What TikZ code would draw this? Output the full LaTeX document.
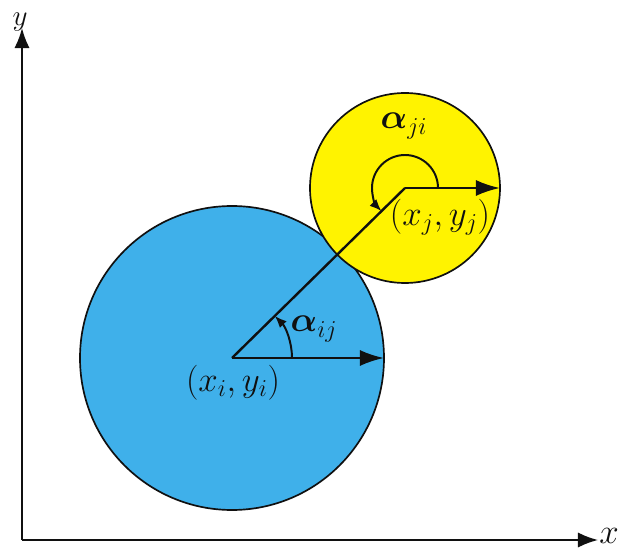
\documentclass[tikz,border=0pt]{standalone}
\usepackage{amsmath}
\usepackage{bm}
\usepackage{tikz}
\usetikzlibrary{arrows.meta,calc}
\definecolor{Sky}{HTML}{3FB0EA}
\definecolor{Lemon}{HTML}{FFF300}
\definecolor{Ink}{HTML}{101010}
\tikzset{
  axisarrow/.style={-{Latex[length=5mm,width=3.8mm]},line width=1.3pt,draw=Ink},
  radiusarrow/.style={-{Latex[length=6mm,width=4mm]},line width=1.7pt,draw=Ink},
  anglearrow/.style={-{Latex[length=3mm,width=2.4mm]},line width=1.4pt,draw=Ink},
  disc/.style={line width=1.2pt,draw=Ink},
  mathlabel/.style={text=Ink,inner sep=0pt,font=\fontsize{24}{28}\selectfont},
}
\begin{document}
\begin{tikzpicture}[x=0.025cm,y=0.025cm]
    \useasboundingbox (0,0) rectangle (621,555);
    % axes
    \coordinate (origin) at (22,15);
    \coordinate (ytip) at (22,527);
    \coordinate (xtip) at (598,15);
    \draw[axisarrow] (origin) -- (ytip);
    \draw[axisarrow] (origin) -- (xtip);
    \node[mathlabel,font=\fontsize{22}{26}\selectfont] (ylabel) at (20,533) {$y$};
    \node[mathlabel] (xlabel) at (609,19) {$x$};

    % the two discs
    \coordinate (ci) at (232,197);
    \coordinate (cj) at (405,367);
    \filldraw[disc,fill=Sky] (ci) circle[radius=152];
    \filldraw[disc,fill=Lemon] (cj) circle[radius=95];

    \coordinate (ri) at (384,197);
    \coordinate (rj) at (500,367);
    \draw[radiusarrow] (ci) -- (ri);
    \draw[radiusarrow] (cj) -- (rj);
    \draw[line width=1.7pt,draw=Ink] (ci) -- (cj);

    % angles
    \draw[anglearrow] ($(ci)+(60,0)$) arc[start angle=0,end angle=44.5,radius=60];
    \draw[anglearrow] ($(cj)+(33,0)$) arc[start angle=0,end angle=224.5,radius=33];
    \node[mathlabel] (aij) at (314,226) {$\bm{\alpha}_{ij}$};
    \node[mathlabel] (aji) at (404,429) {$\bm{\alpha}_{ji}$};

    \node[mathlabel] (pj) at (440,338) {$\left(x_j, y_j\right)$};
    \node[mathlabel] (pi) at (233,172) {$\left(x_i, y_i\right)$};
\end{tikzpicture}
\end{document}
